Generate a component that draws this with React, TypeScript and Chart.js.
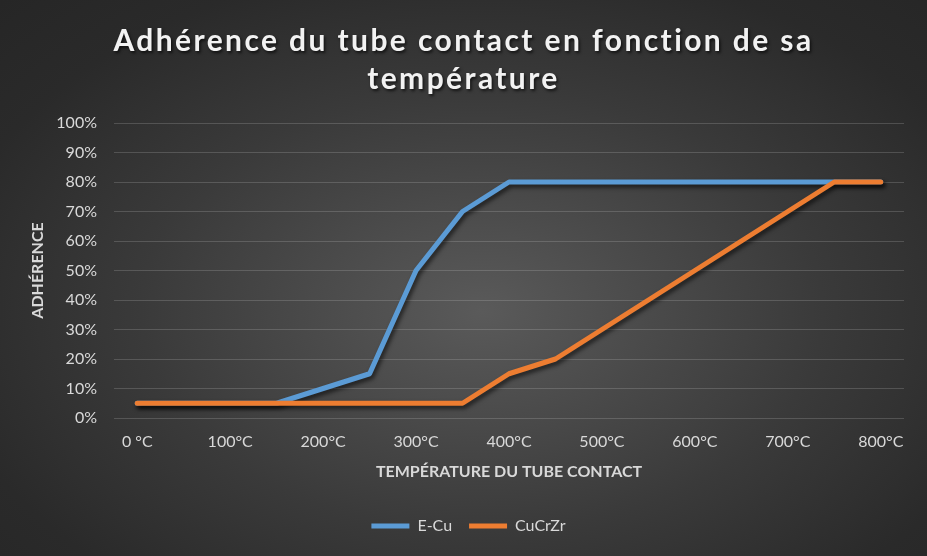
import React, { useEffect, useRef } from "react";
import { Chart, registerables } from "chart.js";

Chart.register(...registerables);

// ---- data ----
const categories = [
  "0 °C", "50°C", "100°C", "150°C", "200°C", "250°C", "300°C", "350°C", "400°C",
  "450°C", "500°C", "550°C", "600°C", "650°C", "700°C", "750°C", "800°C",
];
const seriesNames = ["E-Cu", "CuCrZr"];
const eCu = [5, 5, 5, 5, 10, 15, 50, 70, 80, 80, 80, 80, 80, 80, 80, 80, 80];
const cuCrZr = [5, 5, 5, 5, 5, 5, 5, 5, 15, 20, 30, 40, 50, 60, 70, 80, 80];
const titleLines = ["Adhérence du tube contact en fonction de sa", "température"];
const yAxisTitle = "ADHÉRENCE";
const xAxisTitle = "TEMPÉRATURE DU TUBE CONTACT";
const yMin = 0;
const yMax = 100;
const yStep = 10;

// ---- styles ----
const W = 927;
const H = 556;
const FONT = "Lato, 'Open Sans', sans-serif";
const TEXT = "#d9d9d9";
const BLUE = "#5B9BD5";
const ORANGE = "#ED7D31";
const PAD_L = 12;
const PAD_R = 2;
const PAD_T = 123;
const PAD_B = 12;

const titlePlugin = {
  id: "customTitle",
  afterDraw(chart: any) {
    const ctx = chart.ctx as CanvasRenderingContext2D;
    ctx.save();
    ctx.font = `bold 30px ${FONT}`;
    ctx.fillStyle = "#f2f2f2";
    ctx.textAlign = "center";
    ctx.textBaseline = "alphabetic";
    (ctx as any).letterSpacing = "2.4px";
    ctx.shadowColor = "rgba(0,0,0,0.65)";
    ctx.shadowOffsetX = 1.5;
    ctx.shadowOffsetY = 2;
    ctx.shadowBlur = 3;
    ctx.fillText(titleLines[0], W / 2, 51);
    ctx.fillText(titleLines[1], W / 2, 89);
    ctx.restore();
  },
};

const shadowPlugin = {
  id: "lineShadow",
  beforeDatasetDraw(chart: any) {
    const ctx = chart.ctx as CanvasRenderingContext2D;
    ctx.save();
    ctx.shadowColor = "rgba(0,0,0,0.6)";
    ctx.shadowOffsetX = 2;
    ctx.shadowOffsetY = 3;
    ctx.shadowBlur = 4;
  },
  afterDatasetDraw(chart: any) {
    chart.ctx.restore();
  },
};

export default function App() {
  const ref = useRef<HTMLCanvasElement | null>(null);

  useEffect(() => {
    if (!ref.current) return;
    Chart.defaults.font.family = FONT;
    const chart = new Chart(ref.current, {
      type: "line",
      data: {
        labels: categories,
        datasets: [
          {
            label: seriesNames[0],
            data: eCu,
            borderColor: BLUE,
            backgroundColor: BLUE,
            borderWidth: 5,
            borderCapStyle: "round",
            borderJoinStyle: "round",
            pointRadius: 0,
            pointHoverRadius: 0,
            tension: 0,
            order: 1,
          },
          {
            label: seriesNames[1],
            data: cuCrZr,
            borderColor: ORANGE,
            backgroundColor: ORANGE,
            borderWidth: 5,
            borderCapStyle: "round",
            borderJoinStyle: "round",
            pointRadius: 0,
            pointHoverRadius: 0,
            tension: 0,
            order: 0,
          },
        ],
      },
      options: {
        responsive: false,
        animation: false,
        events: [],
        layout: { padding: { top: PAD_T, left: PAD_L, right: PAD_R, bottom: PAD_B } },
        plugins: {
          title: { display: false },
          tooltip: { enabled: false },
          legend: {
            display: true,
            position: "bottom",
            labels: {
              color: TEXT,
              font: { size: 16 },
              usePointStyle: true,
              pointStyle: "line",
              pointStyleWidth: 38,
              padding: 17,
              sort: (a: any, b: any) => a.datasetIndex - b.datasetIndex,
            },
          },
        },
        scales: {
          x: {
            offset: true,
            grid: { display: false, drawTicks: false },
            border: { display: false },
            ticks: {
              color: TEXT,
              font: { size: 16 },
              padding: 14,
              autoSkip: false,
              maxRotation: 0,
              callback: (_v: any, i: number) => (i % 2 === 0 ? categories[i] : ""),
            },
            title: {
              display: true,
              text: xAxisTitle,
              color: TEXT,
              font: { size: 16, weight: "bold" },
              padding: { top: 0, bottom: 20 },
            },
            afterFit: (s: any) => {
              s.height = 83;
            },
          },
          y: {
            min: yMin,
            max: yMax,
            grid: { color: "rgba(217,217,217,0.2)", lineWidth: 1, drawTicks: false },
            border: { display: false },
            ticks: {
              stepSize: yStep,
              color: TEXT,
              font: { size: 16 },
              padding: 17,
              callback: (v: any) => `${v}%`,
            },
            title: {
              display: true,
              text: yAxisTitle,
              color: TEXT,
              font: { size: 16, weight: "bold" },
              padding: { top: 16, bottom: 0 },
            },
            afterFit: (s: any) => {
              s.width = 114 - PAD_L;
            },
          },
          y2: {
            position: "right",
            display: true,
            grid: { display: false, drawTicks: false },
            border: { display: false },
            ticks: { display: false },
            afterFit: (s: any) => {
              s.width = W - PAD_R - 904;
            },
          },
        },
      },
      plugins: [titlePlugin, shadowPlugin],
    } as any);
    return () => chart.destroy();
  }, []);

  return (
    <div
      style={{
        position: "fixed",
        left: 0,
        top: 0,
        width: W,
        height: H,
        background:
          "radial-gradient(ellipse farthest-corner at 52% 56%, #5a5a5a 0%, #3a3a3a 50%, #2a2a2a 80%, #262626 100%)",
      }}
    >
      <canvas ref={ref} width={W} height={H} style={{ display: "block" }} />
    </div>
  );
}
